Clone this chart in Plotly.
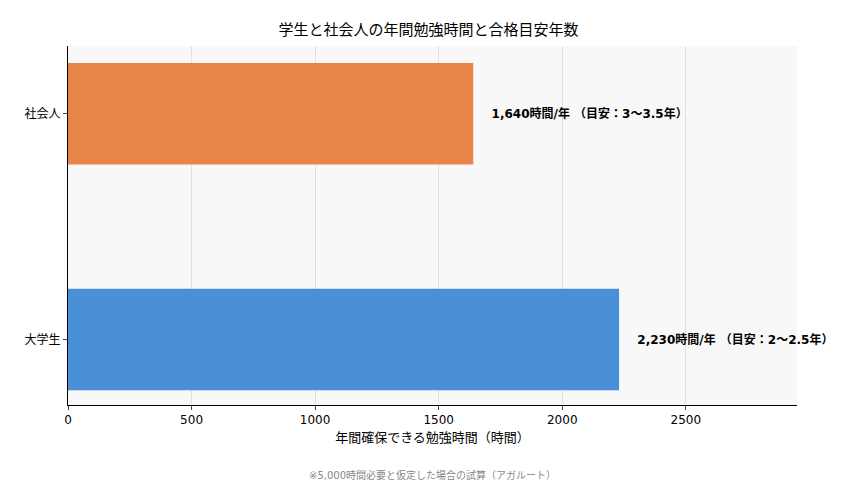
import plotly.graph_objects as go

categories = ["大学生", "社会人"]
hours = [2230, 1640]
labels = ["2,230時間/年 （目安：2〜2.5年）", "1,640時間/年 （目安：3〜3.5年）"]
colors = ["#4a90d9", "#e8864a"]

fig = go.Figure(go.Bar(
    y=categories, x=hours, orientation="h", width=0.45,
    marker=dict(color=colors, line=dict(width=0)),
    text=["    <b>" + t + "</b>" for t in labels], textposition="outside",
    textfont=dict(size=12, color="black"), cliponaxis=False,
))
fig.update_layout(
    width=841, height=482,
    margin=dict(l=60, r=52, t=38, b=85),
    paper_bgcolor="white", plot_bgcolor="#f8f8f8",
    font=dict(family="DejaVu Sans, Noto Sans CJK JP", size=12, color="black"),
    title=dict(text="学生と社会人の年間勉強時間と合格目安年数", x=0.5, xanchor="center",
               y=0.965, font=dict(size=15)),
    xaxis=dict(range=[0, 2950], tickvals=[0, 500, 1000, 1500, 2000, 2500], automargin=False,
               showgrid=True, gridcolor="#e0e0e0", zeroline=False,
               showline=True, linecolor="black", ticks="outside", ticklen=4,
               title=dict(text="年間確保できる勉強時間（時間）", font=dict(size=13), standoff=6)),
    yaxis=dict(range=[-0.29, 1.3], showgrid=False, showline=True, linecolor="black", automargin=False,
               ticks="outside", ticklen=4, zeroline=False),
    showlegend=False,
)
fig.add_annotation(text="※5,000時間必要と仮定した場合の試算（アガルート）", xref="paper", yref="paper",
                   x=0.5, y=-0.195, yanchor="middle", showarrow=False,
                   font=dict(size=10, color="#888888"))
fig.write_html("out.html")
